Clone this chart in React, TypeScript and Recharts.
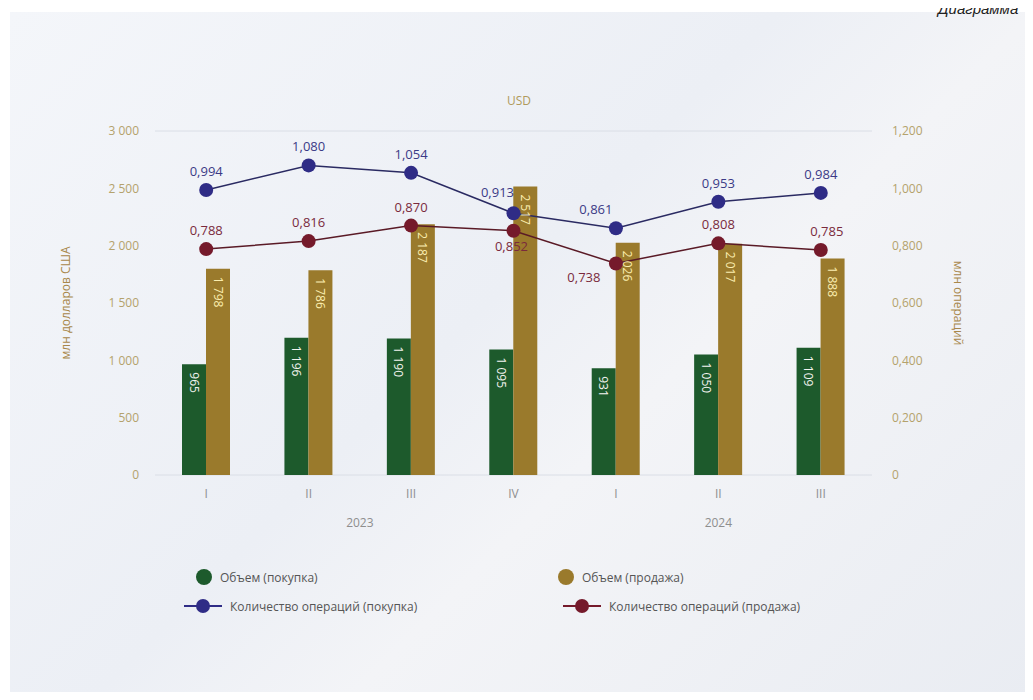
import React from "react";
import { ComposedChart, Bar, Line, XAxis, YAxis, CartesianGrid, LabelList } from "recharts";

const quarters = ["I", "II", "III", "IV", "I", "II", "III"];
const buyVolume = [965, 1196, 1190, 1095, 931, 1050, 1109];
const sellVolume = [1798, 1786, 2187, 2517, 2026, 2017, 1888];
const buyCount = [0.994, 1.08, 1.054, 0.913, 0.861, 0.953, 0.984];
const sellCount = [0.788, 0.816, 0.87, 0.852, 0.738, 0.808, 0.785];
const leftTicks = [0, 500, 1000, 1500, 2000, 2500, 3000];
const rightTicks = [0, 0.2, 0.4, 0.6, 0.8, 1.0, 1.2];
const years = [
  { label: "2023", from: 0, to: 3 },
  { label: "2024", from: 4, to: 6 },
];

// label nudges for the line values (dx, dy from the dot)
const buyLabelShift = [[0, -14], [0, -14], [0, -14], [-16, -16], [-20, -14], [0, -14], [0, -14]];
const sellLabelShift = [[0, -14], [0, -14], [0, -14], [-2, 20], [-32, 19], [0, -14], [6, -14]];

const data = quarters.map((q, i) => ({
  q,
  buyVolume: buyVolume[i],
  sellVolume: sellVolume[i],
  buyCount: buyCount[i],
  sellCount: sellCount[i],
}));

const GREEN = "#1d5a2c";
const GOLD = "#9a7a2c";
const BLUE = "#2f2c86";
const RED = "#751a2b";
const FONT = "'Open Sans', 'Noto Sans', sans-serif";

const PLOT_LEFT = 155;
const PLOT_RIGHT = 872;
const STEP = (PLOT_RIGHT - PLOT_LEFT) / quarters.length;

const fmtVol = (n: number) =>
  n >= 1000 ? `${Math.floor(n / 1000)} ${String(n % 1000).padStart(3, "0")}` : String(n);
const fmtCount = (n: number) => (n === 0 ? "0" : n.toFixed(3).replace(".", ","));

const QuarterTick = (props: any) => {
  const { x, y, payload } = props;
  const i = payload.index;
  const yr = years.find((g) => g.from === i);
  return (
    <g>
      <text x={x} y={y + 15} textAnchor="middle" fontSize={12} fill="#8e8e8e" fontFamily={FONT}>
        {payload.value}
      </text>
      {yr && (
        <text
          x={x + ((yr.to - yr.from) / 2) * STEP}
          y={y + 44}
          textAnchor="middle"
          fontSize={12}
          fill="#8e8e8e"
          fontFamily={FONT}
        >
          {yr.label}
        </text>
      )}
    </g>
  );
};

const barLabel = (color: string) => (props: any) => {
  const { x, y, width, value } = props;
  const cx = x + width / 2;
  const ty = y + 8;
  return (
    <text
      x={cx}
      y={ty}
      transform={`rotate(90, ${cx}, ${ty})`}
      textAnchor="start"
      dominantBaseline="central"
      fontSize={12}
      fill={color}
      fontFamily={FONT}
    >
      {fmtVol(value)}
    </text>
  );
};

const lineLabel = (color: string, shifts: number[][]) => (props: any) => {
  const { x, y, value, index } = props;
  const [dx, dy] = shifts[index];
  return (
    <text x={x + dx} y={y + dy} textAnchor="middle" fontSize={13} fill={color} fontFamily={FONT}>
      {fmtCount(value)}
    </text>
  );
};

const keyRow: React.CSSProperties = {
  position: "absolute",
  display: "flex",
  alignItems: "center",
  whiteSpace: "nowrap",
  width: 320,
};

const DotKey = ({ left, top, color, text }: { left: number; top: number; color: string; text: string }) => (
  <div style={{ ...keyRow, left: left - 9, top: top - 9 }}>
    <svg width={18} height={18} style={{ marginRight: 7, flexShrink: 0 }}>
      <circle cx={9} cy={9} r={8} fill={color} />
    </svg>
    <span>{text}</span>
  </div>
);

const LineKey = ({ left, top, color, text }: { left: number; top: number; color: string; text: string }) => (
  <div style={{ ...keyRow, left, top: top - 9 }}>
    <svg width={38} height={18} style={{ marginRight: 8, flexShrink: 0 }}>
      <line x1={0} y1={9} x2={38} y2={9} stroke={color} strokeWidth={2} />
      <circle cx={19} cy={9} r={7} fill={color} />
    </svg>
    <span>{text}</span>
  </div>
);

export default function App() {
  return (
    <div
      style={{
        position: "relative",
        width: 1033,
        height: 700,
        margin: -8,
        overflow: "hidden",
        background: "#ffffff",
        fontFamily: FONT,
      }}
    >
      <div
        style={{
          position: "absolute",
          left: 10,
          top: 12,
          right: 0,
          bottom: 0,
          background: "linear-gradient(135deg, #f4f6fa 0%, #eceff5 45%, #f3f4f7 60%, #e9ecf2 100%)",
        }}
      />
      <div
        style={{
          position: "absolute",
          left: 938,
          top: 1,
          fontSize: 15,
          lineHeight: "16px",
          fontStyle: "italic",
          color: "#222",
          whiteSpace: "nowrap",
          fontFamily: "'Liberation Sans', Arial, sans-serif",
        }}
      >
        Диаграмма
      </div>
      <div
        style={{
          position: "absolute",
          left: 0,
          top: 92,
          width: 1038,
          textAlign: "center",
          fontSize: 12,
          color: "#b09a5c",
        }}
      >
        USD
      </div>
      <div style={{ position: "absolute", left: 0, top: 0 }}>
        <ComposedChart
          width={1033}
          height={700}
          data={data}
          margin={{ top: 131, right: 0, left: 0, bottom: 0 }}
          barGap={0}
        >
          <CartesianGrid vertical={false} stroke="#dadee6" strokeWidth={1} />
          <XAxis
            dataKey="q"
            height={225}
            axisLine={false}
            tickLine={false}
            interval={0}
            tick={<QuarterTick />}
          />
          <YAxis
            yAxisId="left"
            width={155}
            domain={[0, 3000]}
            ticks={leftTicks}
            tickFormatter={fmtVol}
            axisLine={false}
            tickLine={false}
            tickMargin={10}
            tick={{ fontSize: 12, fill: "#b4a26c", fontFamily: FONT }}
            label={{
              value: "млн долларов США",
              angle: -90,
              position: "insideLeft",
              offset: 66,
              style: { fontSize: 12, fill: "#a8874a", fontFamily: FONT, textAnchor: "middle" },
            }}
          />
          <YAxis
            yAxisId="right"
            orientation="right"
            width={161}
            domain={[0, 1.2]}
            ticks={rightTicks}
            tickFormatter={fmtCount}
            axisLine={false}
            tickLine={false}
            tickMargin={14}
            tick={{ fontSize: 12, fill: "#b4a26c", fontFamily: FONT }}
            label={{
              value: "млн операций",
              angle: 90,
              position: "insideRight",
              offset: 75,
              style: { fontSize: 12, fill: "#a8874a", fontFamily: FONT, textAnchor: "middle" },
            }}
          />
          <Bar yAxisId="left" dataKey="buyVolume" fill={GREEN} barSize={24} isAnimationActive={false}>
            <LabelList dataKey="buyVolume" content={barLabel("#f4f4f0")} />
          </Bar>
          <Bar yAxisId="left" dataKey="sellVolume" fill={GOLD} barSize={24} isAnimationActive={false}>
            <LabelList dataKey="sellVolume" content={barLabel("#fbeeb0")} />
          </Bar>
          <Line
            yAxisId="right"
            type="linear"
            dataKey="buyCount"
            stroke="#2a2a62"
            strokeWidth={1.5}
            dot={{ r: 7, fill: BLUE, stroke: "none" }}
            activeDot={false}
            isAnimationActive={false}
          >
            <LabelList dataKey="buyCount" content={lineLabel("#3b3a86", buyLabelShift)} />
          </Line>
          <Line
            yAxisId="right"
            type="linear"
            dataKey="sellCount"
            stroke="#5a1a26"
            strokeWidth={1.5}
            dot={{ r: 7, fill: RED, stroke: "none" }}
            activeDot={false}
            isAnimationActive={false}
          >
            <LabelList dataKey="sellCount" content={lineLabel("#7a2a3c", sellLabelShift)} />
          </Line>
        </ComposedChart>
      </div>
      <div style={{ position: "absolute", left: 0, top: 0, width: 1033, height: 700, fontSize: 12, color: "#555" }}>
        <DotKey left={204} top={577} color={GREEN} text="Объем (покупка)" />
        <DotKey left={566} top={577} color={GOLD} text="Объем (продажа)" />
        <LineKey left={184} top={606} color={BLUE} text="Количество операций (покупка)" />
        <LineKey left={563} top={606} color={RED} text="Количество операций (продажа)" />
      </div>
    </div>
  );
}
